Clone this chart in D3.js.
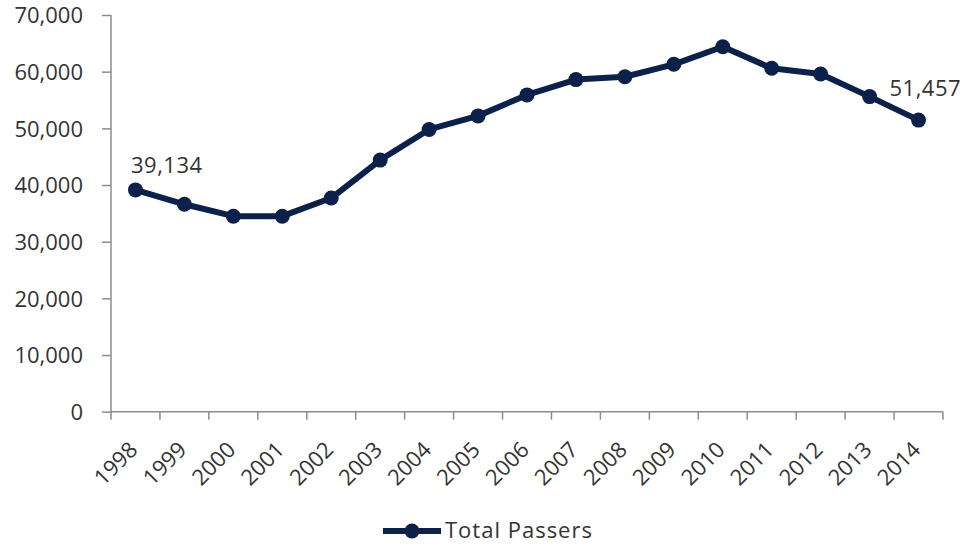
<!DOCTYPE html>
<html>
<head>
<meta charset="utf-8">
<script src="https://cdn.jsdelivr.net/npm/d3@7"></script>
<style>
  body { margin: 0; background: #fff; }
  text { font-family: "Open Sans", sans-serif; }
</style>
</head>
<body>
<div id="chart"></div>
<script>
const years = ['1998', '1999', '2000', '2001', '2002', '2003', '2004', '2005', '2006',
  '2007', '2008', '2009', '2010', '2011', '2012', '2013', '2014'];
const passers = [39134, 36600, 34500, 34500, 37700, 44400, 49800, 52200, 55900,
  58600, 59100, 61300, 64400, 60600, 59600, 55600, 51457];
const yTicks = [0, 10000, 20000, 30000, 40000, 50000, 60000, 70000];
const seriesName = 'Total Passers';

const width = 966, height = 546;
const lineColor = '#0b2149';
const axisColor = '#8c8c8c';
const textColor = '#333333';

const svg = d3.select('#chart').append('svg')
  .attr('width', width)
  .attr('height', height);

const x = d3.scaleBand().domain(years).range([111, 943]).padding(0);
const y = d3.scaleLinear().domain([0, 70000]).range([411.7, 15]);
const fmt = d3.format(',');

// y axis
const yAxis = svg.append('g')
  .attr('transform', 'translate(111,0)')
  .call(d3.axisLeft(y).tickValues(yTicks).tickFormat(fmt).tickSize(9).tickPadding(19));
yAxis.selectAll('line, path').attr('stroke', axisColor).attr('stroke-width', 1.5);
yAxis.select('.domain').attr('d', 'M0,' + y(70000) + 'V' + y(0));
yAxis.selectAll('text')
  .attr('fill', textColor)
  .style('font-size', '22px')
  .style('font-family', '"Open Sans", sans-serif')
  .attr('dy', '0.36em');

// x axis, ticks between categories
const xAxisG = svg.append('g')
  .attr('transform', 'translate(0,' + y(0) + ')');
xAxisG.append('line')
  .attr('x1', x.range()[0]).attr('x2', x.range()[1])
  .attr('stroke', axisColor).attr('stroke-width', 1.5);
const edges = years.map(d => x(d)).concat([x(years[years.length - 1]) + x.bandwidth()]);
xAxisG.selectAll('.tick')
  .data(edges)
  .join('line')
  .attr('class', 'tick')
  .attr('x1', d => d).attr('x2', d => d)
  .attr('y1', 0).attr('y2', 8)
  .attr('stroke', axisColor).attr('stroke-width', 1.5);
xAxisG.selectAll('.lbl')
  .data(years)
  .join('text')
  .attr('class', 'lbl')
  .attr('transform', d => 'translate(' + (x(d) + x.bandwidth() / 2 - 2) + ',34) rotate(-45)')
  .attr('text-anchor', 'end')
  .attr('dy', '0.35em')
  .attr('fill', textColor)
  .style('font-size', '22px')
  .text(d => d);

// line
const cx = d => x(d) + x.bandwidth() / 2;
const line = d3.line()
  .x((d, i) => cx(years[i]))
  .y(d => y(d));

svg.append('path')
  .datum(passers)
  .attr('d', line)
  .attr('fill', 'none')
  .attr('stroke', lineColor)
  .attr('stroke-width', 6)
  .attr('stroke-linejoin', 'round');

svg.selectAll('.pt')
  .data(passers)
  .join('circle')
  .attr('class', 'pt')
  .attr('cx', (d, i) => cx(years[i]))
  .attr('cy', d => y(d))
  .attr('r', 7.5)
  .attr('fill', lineColor);

// data labels on first and last point
const first = 0, last = passers.length - 1;
svg.append('text')
  .attr('x', cx(years[first]) - 4.5)
  .attr('y', y(passers[first]) - 17)
  .attr('fill', textColor)
  .style('font-size', '22px')
  .style('letter-spacing', '0.5px')
  .text(fmt(passers[first]));
svg.append('text')
  .attr('x', cx(years[last]) - 29)
  .attr('y', y(passers[last]) - 24)
  .attr('fill', textColor)
  .style('font-size', '22px')
  .style('letter-spacing', '0.5px')
  .text(fmt(passers[last]));

// legend
const legend = svg.append('g').attr('transform', 'translate(383,531)');
legend.append('line')
  .attr('x1', 0).attr('x2', 58)
  .attr('stroke', lineColor).attr('stroke-width', 6);
legend.append('circle')
  .attr('cx', 29).attr('r', 7.5)
  .attr('fill', lineColor);
legend.append('text')
  .attr('x', 62)
  .attr('y', 7)
  .attr('fill', textColor)
  .style('font-size', '22px')
  .style('letter-spacing', '1px')
  .text(seriesName);
</script>
</body>
</html>
